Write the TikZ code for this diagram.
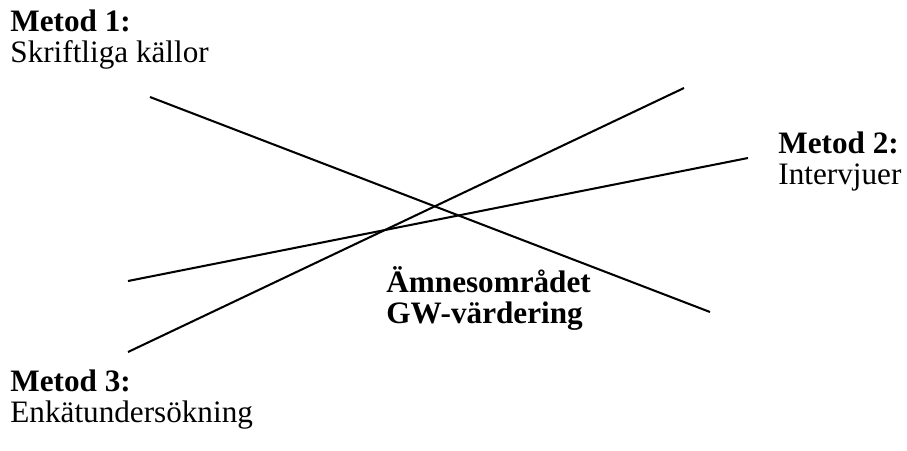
\documentclass[tikz,border=0pt]{standalone}
\usepackage{fontspec}
\setmainfont{Liberation Serif}
\begin{document}
\begin{tikzpicture}[x=0.465pt,y=-0.465pt,
  lbl/.style={anchor=base west,inner sep=0pt,font=\fontsize{14.5}{17}\selectfont},
  blbl/.style={lbl,font=\fontsize{14.5}{17}\selectfont\bfseries},
  ln/.style={line width=0.95pt}]
\useasboundingbox (0,0) rectangle (907,450);
\node[blbl] (m1) at (10,31) {Metod 1:};
\node[lbl] (m1t) at (10,62) {Skriftliga källor};
\node[blbl] (m2) at (778,153) {Metod 2:};
\node[lbl] (m2t) at (778,184) {Intervjuer};
\node[blbl] (m3) at (10,391) {Metod 3:};
\node[lbl] (m3t) at (10,422) {Enkätundersökning};
\node[blbl] (a1) at (386,292) {Ämnesområdet};
\node[blbl] (a2) at (386,323) {GW-värdering};
\coordinate (l1a) at (150,97);
\coordinate (l1b) at (710,312);
\coordinate (l2a) at (128,352);
\coordinate (l2b) at (684,88);
\coordinate (l3a) at (128,281);
\coordinate (l3b) at (748,158);
\draw[ln] (l1a) -- (l1b);
\draw[ln] (l2a) -- (l2b);
\draw[ln] (l3a) -- (l3b);
\end{tikzpicture}
\end{document}
